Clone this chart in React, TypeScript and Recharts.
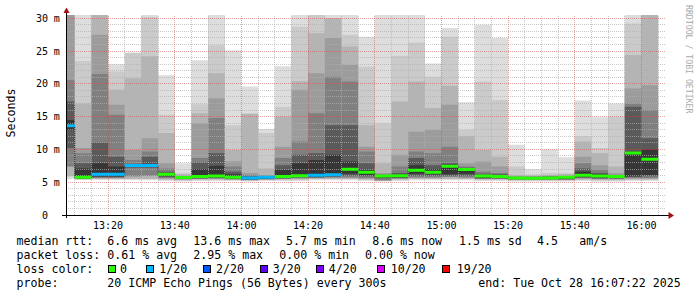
import React from 'react';
import { ComposedChart, Area, Line, XAxis, YAxis, ReferenceLine } from 'recharts';

const W = 697;
const H = 297;
const MONO = '"DejaVu Sans Mono", monospace';

// start of each 5-minute step, minutes after 13:00 (first one is cut by the left edge)
const barStarts = [5, 10, 15, 20, 25, 30, 35, 40, 45, 50, 55, 60, 65, 70, 75, 80, 85, 90,
  95, 100, 105, 110, 115, 120, 125, 130, 135, 140, 145, 150, 155, 160, 165, 170, 175, 180];

const median = [13.6, 5.76, 6.2, 6.2, 7.53, 7.53, 6.2, 5.7, 5.86, 5.96, 5.76, 5.65, 5.76, 5.86, 6.0, 6.06, 6.15, 6.98,
  6.52, 5.96, 6.0, 6.83, 6.52, 7.43, 6.93, 5.96, 5.86, 5.65, 5.6, 5.65, 5.76, 6.06, 5.96, 5.86, 9.47, 8.5];

// lost pings out of 20
const loss = [1, 0, 1, 1, 1, 1, 0, 0, 0, 0, 0, 1, 1, 0, 0, 1, 1, 0,
  0, 0, 0, 0, 0, 0, 0, 0, 0, 0, 0, 0, 0, 0, 0, 0, 0, 0];

// smoke: upper edges of the bands, outer (light) to inner (dark)
const up1 = [45, 33, 45, 23.0, 24.8, 31, 21.3, 7.9, 23.6, 31, 25.1, 19.6, 13.1, 22.7, 31, 31, 31, 31,
  27.2, 31, 31, 31, 23.1, 28.5, 17.2, 29.0, 27.0, 10.7, 7.0, 10.0, 8.8, 17.45, 14.9, 17.0, 31, 35];
const up2 = [40, 23.5, 38, 21.9, 24.7, 30.2, 15.3, 6.4, 16.9, 25.9, 13.7, 15.5, 12.5, 16.5, 28.7, 30.5, 30.0, 27.5,
  22.6, 14.0, 24.3, 26.3, 21.1, 27.2, 13.0, 20.35, 17.55, 7.4, 6.2, 6.4, 6.4, 12.0, 10.2, 15.0, 29.2, 32];
const up3 = [35, 17.0, 33, 19.1, 20.85, 24.2, 12.5, 6.2, 15.5, 21.6, 9.9, 15.4, 7.1, 15.0, 20.4, 27.7, 30.0, 25.7,
  13.7, 7.9, 17.3, 20.35, 16.3, 19.7, 12.0, 9.9, 8.9, 6.1, 6.0, 6.1, 6.2, 11.2, 9.4, 7.4, 24.4, 31];
const up4 = [31, 10.2, 27.5, 16.8, 9.9, 11.7, 7.9, 6.0, 14.0, 17.8, 8.2, 6.4, 6.1, 10.4, 19.1, 21.6, 27.0, 22.9,
  10.4, 6.4, 9.2, 12.7, 13.0, 16.8, 7.9, 8.15, 7.4, 5.9, 5.9, 6.0, 6.0, 8.9, 7.6, 6.4, 19.3, 19.8];
const up5 = [20.6, 9.4, 21.5, 15.3, 8.4, 9.7, 7.1, 5.9, 8.7, 14.8, 7.4, 6.1, 6.0, 8.7, 11.2, 15.5, 21.1, 20.35,
  9.7, 6.2, 7.4, 9.7, 9.4, 10.4, 7.4, 6.6, 6.4, 5.85, 5.85, 5.9, 5.95, 7.9, 6.9, 6.1, 17.0, 16.0];
const up6 = [17.3, 7.9, 11.0, 8.9, 7.8, 8.9, 6.6, 5.85, 8.0, 9.4, 6.6, 5.9, 5.9, 7.6, 9.2, 9.4, 13.7, 13.7,
  7.9, 6.1, 6.4, 8.7, 7.6, 7.9, 7.2, 6.3, 6.2, 5.8, 5.8, 5.85, 5.9, 7.1, 6.4, 6.0, 16.5, 11.7];
const up7 = [14.5, 7.1, 7.9, 7.4, 7.6, 7.8, 6.4, 5.8, 7.0, 7.5, 6.2, 5.8, 5.85, 6.9, 7.9, 8.4, 9.2, 8.15,
  6.9, 6.0, 6.2, 7.6, 7.0, 7.7, 7.1, 6.1, 6.1, 5.75, 5.75, 5.8, 5.85, 6.6, 6.2, 5.95, 9.7, 10.0];

// smoke: lower edges of the bands
const lo1 = [5.5, 5.35, 5.35, 5.35, 5.35, 5.3, 5.2, 5.1, 5.2, 5.2, 5.2, 5.1, 5.2, 5.2, 5.2, 5.3, 5.3, 5.3,
  5.2, 5.1, 5.2, 5.3, 5.3, 5.3, 5.3, 5.2, 5.2, 5.1, 5.1, 5.1, 5.1, 5.2, 5.1, 5.1, 5.2, 5.2];
const lo2 = [5.9, 5.45, 5.5, 5.5, 5.5, 5.5, 5.4, 5.3, 5.4, 5.4, 5.35, 5.25, 5.35, 5.4, 5.4, 5.5, 5.5, 5.5,
  5.4, 5.2, 5.4, 5.5, 5.5, 5.5, 5.5, 5.4, 5.4, 5.3, 5.3, 5.3, 5.3, 5.4, 5.3, 5.3, 5.4, 5.4];
const lo4 = [7.4, 5.5, 5.65, 5.65, 5.9, 6.0, 5.6, 5.45, 5.5, 5.55, 5.45, 5.35, 5.45, 5.5, 5.6, 5.65, 5.7, 5.7,
  5.6, 5.3, 5.55, 5.7, 5.7, 5.8, 5.7, 5.5, 5.5, 5.4, 5.4, 5.4, 5.4, 5.6, 5.5, 5.5, 5.6, 5.6];
const lo6 = [10.2, 5.55, 5.8, 5.8, 7.2, 7.2, 5.8, 5.5, 5.6, 5.65, 5.5, 5.4, 5.5, 5.6, 5.7, 5.75, 5.85, 6.0,
  5.9, 5.6, 5.65, 6.0, 6.0, 6.0, 6.0, 5.6, 5.6, 5.45, 5.45, 5.45, 5.45, 5.7, 5.6, 5.6, 5.8, 5.9];
const lo7 = [13.0, 5.6, 5.9, 5.9, 7.35, 7.35, 5.95, 5.55, 5.7, 5.75, 5.55, 5.45, 5.55, 5.65, 5.8, 5.85, 5.95, 6.3,
  6.1, 5.7, 5.75, 6.3, 6.2, 6.2, 6.3, 5.7, 5.65, 5.5, 5.5, 5.5, 5.5, 5.8, 5.7, 5.65, 5.9, 6.1];

const timeTicks = [20, 40, 60, 80, 100, 120, 140, 160, 180];
const timeLabels = ['13:20', '13:40', '14:00', '14:20', '14:40', '15:00', '15:20', '15:40', '16:00'];
const yTicks = [0, 5, 10, 15, 20, 25, 30];

const bandColors = ['#dddddd', '#cacaca', '#b4b4b4', '#9c9c9c', '#808080', '#5a5a5a', '#363636'];
const lossColors: Record<number, string> = { 0: '#26ff00', 1: '#00b8ff' };

const bandUp = [up1, up2, up3, up4, up5, up6, up7];
const bandLo = [lo1, lo2, lo2, lo4, lo4, lo6, lo7];

const rows = barStarts.map((t, i) => {
  const r: any = { t, median: median[i] };
  bandUp.forEach((u, k) => { r['b' + k] = [bandLo[k][i], u[i]]; });
  return r;
});
// close the last step
rows.push({ ...rows[rows.length - 1], t: barStarts[barStarts.length - 1] + 5 });

// one flat piece per step, only for the steps with this loss count
const segmentsFor = (level: number) => {
  const pts: { t: number; v: number | null }[] = [];
  barStarts.forEach((t, i) => {
    if (loss[i] !== level) return;
    pts.push({ t, v: median[i] });
    pts.push({ t: t + 5, v: median[i] });
    pts.push({ t: t + 5, v: null });
  });
  return pts;
};

const minorY: number[] = [];
for (let v = 1; v < 31; v++) if (v % 5 !== 0) minorY.push(v);
const minorX: number[] = [];
for (let m = 10; m <= 185; m += 5) if (m % 20 !== 0) minorX.push(m);

const YTick = (props: any) => {
  const { y, payload } = props;
  return (
    <g fontFamily={MONO} fontSize={10} fill="#000">
      <text x={48} y={y} textAnchor="end" dominantBaseline="central">{payload.value}</text>
      {payload.value > 0 && <text x={53.7} y={y} dominantBaseline="central">m</text>}
    </g>
  );
};

const XTick = (props: any) => {
  const { x, payload } = props;
  const idx = timeTicks.indexOf(payload.value);
  return (
    <text x={x} y={225} textAnchor="middle" dominantBaseline="central" fontFamily={MONO} fontSize={10} fill="#000">
      {timeLabels[idx]}
    </text>
  );
};

const lossLegend = [
  { label: '0', color: '#26ff00', box: 108.5, text: 120 },
  { label: '1/20', color: '#00b8ff', box: 146.5, text: 159.3 },
  { label: '2/20', color: '#0059ff', box: 203.5, text: 216 },
  { label: '3/20', color: '#5e00ff', box: 260.5, text: 272.7 },
  { label: '4/20', color: '#7e00ff', box: 316.5, text: 328.7 },
  { label: '10/20', color: '#dd00ff', box: 377.5, text: 390.7 },
  { label: '19/20', color: '#ff0000', box: 442.5, text: 456.7 },
];

const Overlay = () => (
  <svg width={W} height={H} style={{ position: 'absolute', left: 0, top: 0, pointerEvents: 'none' }}>
    <line x1={66.5} y1={10} x2={66.5} y2={218} stroke="#000" />
    <line x1={62} y1={215.5} x2={670} y2={215.5} stroke="#000" />
    <polygon points="63.5,13 69.5,13 66.5,7.5" fill="#a01010" />
    <polygon points="668.5,212 668.5,219 674,215.5" fill="#a01010" />
    <text x={11} y={113} transform="rotate(-90 11 113)" textAnchor="middle" dominantBaseline="central"
      fontFamily={MONO} fontSize={11.6} fill="#000">Seconds</text>
    <text x={688.5} y={5} transform="rotate(90 688.5 5)" dominantBaseline="central"
      fontFamily={MONO} fontSize={8.2} fill="#aaaaaa">RRDTOOL / TOBI OETIKER</text>
    <g fontFamily={MONO} fontSize={11.6} fill="#000" dominantBaseline="central" style={{ whiteSpace: 'pre' }}>
      <text x={16.5} y={241}>median rtt:</text>
      <text x={107.3} y={241}>6.6 ms avg</text>
      <text x={193.3} y={241}>13.6 ms max</text>
      <text x={286} y={241}>5.7 ms min</text>
      <text x={372.3} y={241}>8.6 ms now</text>
      <text x={459} y={241}>1.5 ms sd</text>
      <text x={537} y={241}>4.5</text>
      <text x={579.3} y={241}>am/s</text>
      <text x={16.5} y={255}>packet loss:</text>
      <text x={107.3} y={255}>0.61 % avg</text>
      <text x={193.3} y={255}>2.95 % max</text>
      <text x={279.3} y={255}>0.00 % min</text>
      <text x={365} y={255}>0.00 % now</text>
      <text x={16.5} y={269.3}>loss color:</text>
      {lossLegend.map((l) => (
        <g key={l.label}>
          <rect x={l.box} y={265.5} width={7} height={7} fill={l.color} stroke="#000" />
          <text x={l.text} y={269.3}>{l.label}</text>
        </g>
      ))}
      <text x={16.5} y={283.3}>probe:</text>
      <text x={107.3} y={283.3}>20 ICMP Echo Pings (56 Bytes) every 300s</text>
      <text x={478.3} y={283.3}>end: Tue Oct 28 16:07:22 2025</text>
    </g>
  </svg>
);

export default function App() {
  return (
    <div style={{ position: 'absolute', left: 0, top: 0, width: W, height: H, background: '#fff' }}>
      <ComposedChart width={W} height={H} data={rows} margin={{ top: 15, right: 31, bottom: 62, left: 6 }}>
        <XAxis dataKey="t" type="number" domain={[7.37, 187.37]} allowDataOverflow ticks={timeTicks}
          tick={<XTick />} axisLine={false} tickLine={false} height={20} />
        <YAxis type="number" domain={[0, 30.5]} allowDataOverflow ticks={yTicks} tick={<YTick />}
          axisLine={false} tickLine={false} width={60} />
        {bandColors.map((c, k) => (
          <Area key={k} type="stepAfter" dataKey={'b' + k} stroke="none" fill={c} fillOpacity={1}
            isAnimationActive={false} />
        ))}
        {minorY.map((v) => (
          <ReferenceLine key={'my' + v} y={v} stroke="#b0b0b0" strokeOpacity={0.7} strokeDasharray="1 1" shapeRendering="crispEdges" />
        ))}
        {minorX.map((v) => (
          <ReferenceLine key={'mx' + v} x={v} stroke="#b0b0b0" strokeOpacity={0.7} strokeDasharray="1 1" shapeRendering="crispEdges" />
        ))}
        {[5, 10, 15, 20, 25, 30].map((v) => (
          <ReferenceLine key={'My' + v} y={v} stroke="#d04848" strokeOpacity={0.5} strokeDasharray="1 1" shapeRendering="crispEdges" />
        ))}
        {timeTicks.map((v) => (
          <ReferenceLine key={'Mx' + v} x={v} stroke="#d04848" strokeOpacity={0.5} strokeDasharray="1 1" shapeRendering="crispEdges" />
        ))}
        <Line type="stepAfter" dataKey="median" stroke="#202020" strokeWidth={1} strokeDasharray="1 1"
          dot={false} isAnimationActive={false} />
        {[0, 1].map((lvl) => (
          <Line key={lvl} data={segmentsFor(lvl)} type="linear" dataKey="v" stroke={lossColors[lvl]}
            strokeWidth={3} strokeLinecap="butt" dot={false} connectNulls={false} isAnimationActive={false} />
        ))}
      </ComposedChart>
      <Overlay />
    </div>
  );
}
